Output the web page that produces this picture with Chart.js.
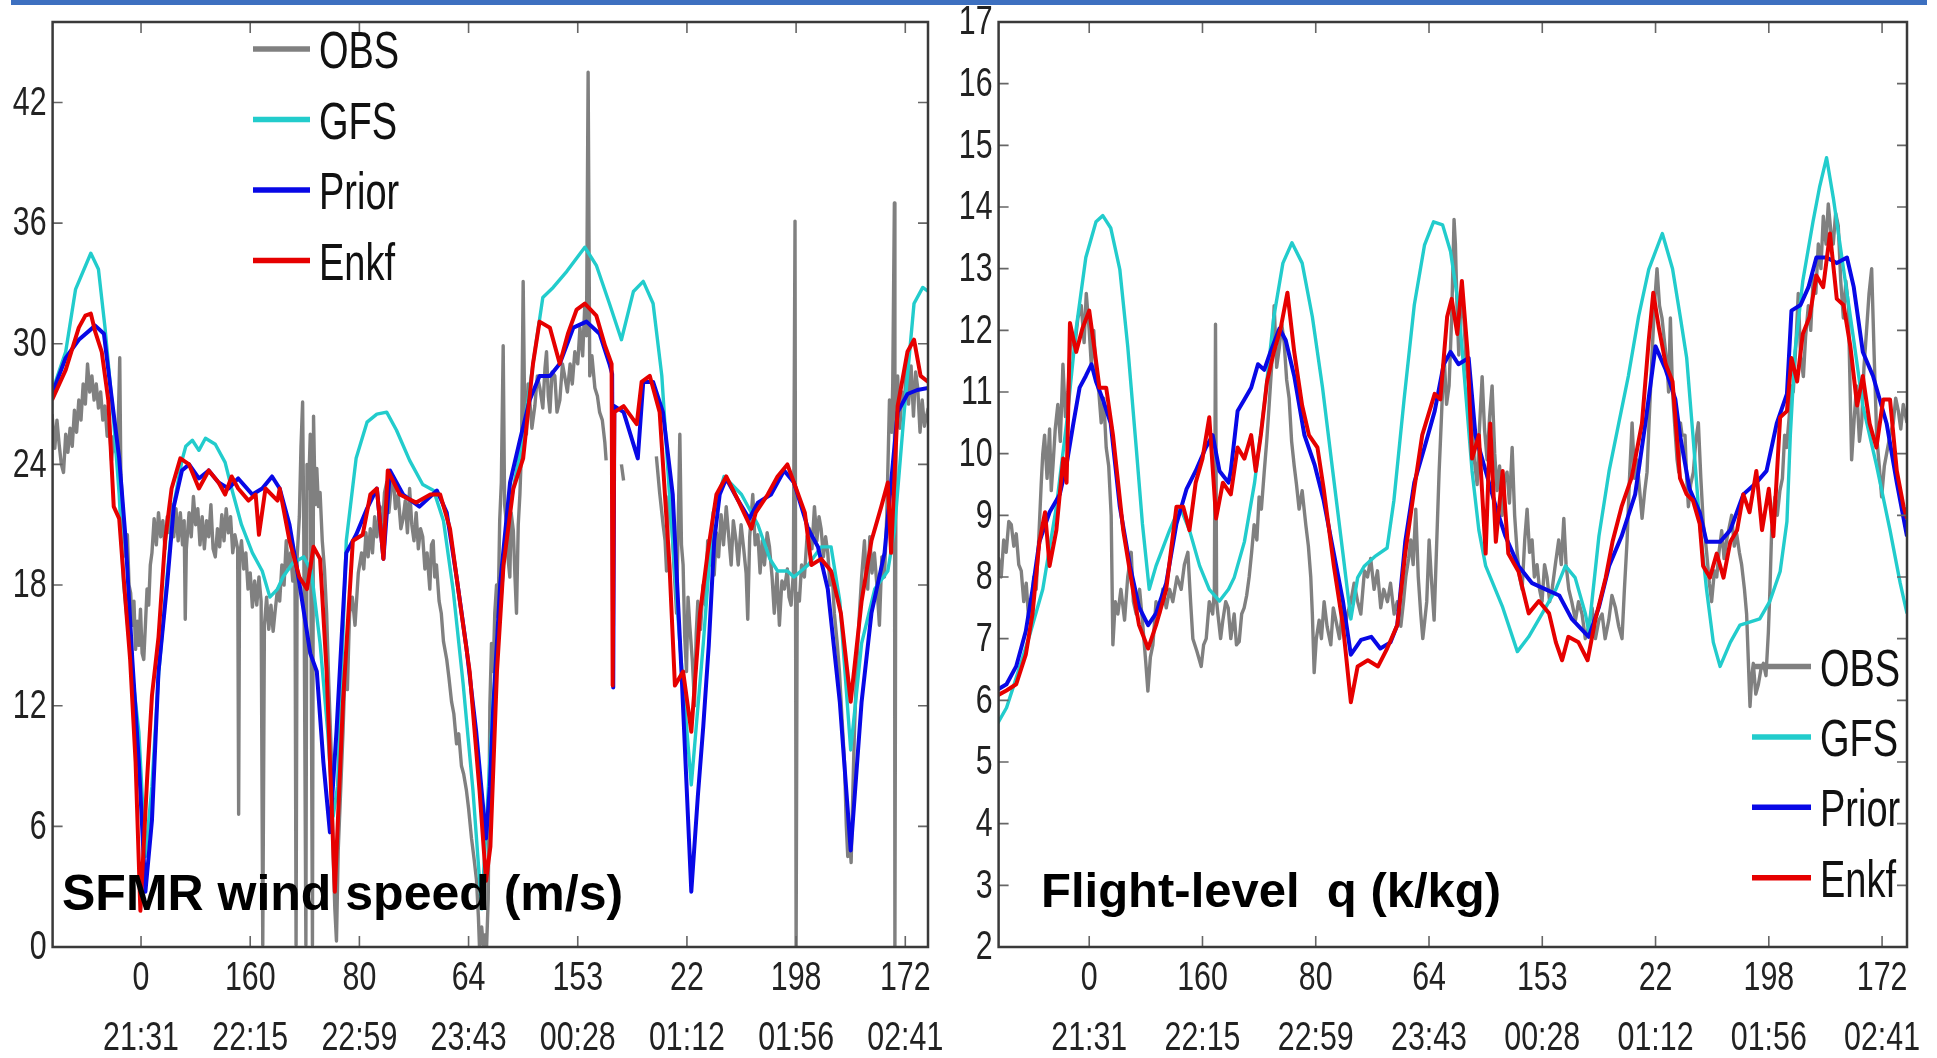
<!DOCTYPE html>
<html><head><meta charset="utf-8">
<script src="https://cdn.jsdelivr.net/npm/chart.js@4.4.1/dist/chart.umd.min.js"></script>
<style>
html,body{margin:0;padding:0;background:#fff;width:1937px;height:1058px;overflow:hidden;}
#bar{position:absolute;left:11px;top:0;width:1916px;height:5px;background:#3d70c0;z-index:5}
#cL{position:absolute;left:0;top:0}
#cR{position:absolute;left:950px;top:0}
</style></head><body>
<div id="bar"></div>
<canvas id="cL" width="960" height="1058"></canvas>
<canvas id="cR" width="987" height="1058"></canvas>
<script>
// ---------- labels ----------
const flightLabels = ['0','160','80','64','153','22','198','172'];
const timeLabels = ['21:31','22:15','22:59','23:43','00:28','01:12','01:56','02:41'];
const seriesNames = ['OBS','GFS','Prior','Enkf'];
const sfmrYTicks = [0,6,12,18,24,30,36,42];
const qYTicks = [2,3,4,5,6,7,8,9,10,11,12,13,14,15,16,17];
const sfmrTitle = 'SFMR wind speed (m/s)';
const qTitle = 'Flight-level  q (k/kg)';

// ---------- left panel: SFMR wind speed (x in tick units) ----------
const sfmrGfs = [[-0.815,27.6],[-0.69,29.6],[-0.60,32.7],[-0.46,34.5],[-0.39,33.7],[-0.33,30.8],[-0.25,26.1],[-0.20,22.5],[-0.16,18.1],[-0.08,13.6],[-0.02,10.7],[0.04,4.5],[0.10,8],[0.16,13.5],[0.24,18.5],[0.30,22],[0.375,24.2],[0.41,24.9],[0.47,25.2],[0.53,24.7],[0.59,25.3],[0.68,25.0],[0.77,24.1],[0.83,22.8],[0.92,21.0],[1.02,19.6],[1.11,18.7],[1.18,17.4],[1.25,17.8],[1.30,18.4],[1.39,19.1],[1.49,19.4],[1.56,18.7],[1.64,15.1],[1.71,10.7],[1.76,6.5],[1.80,8],[1.88,20.2],[1.97,24.3],[2.07,26.1],[2.16,26.5],[2.25,26.6],[2.34,25.7],[2.46,24.2],[2.58,23.0],[2.68,22.7],[2.77,21.2],[2.86,17.7],[2.95,13.1],[3.04,7.8],[3.12,1.9],[3.225,12.2],[3.35,21.0],[3.50,25.5],[3.59,29.0],[3.68,32.3],[3.775,32.8],[3.90,33.6],[4.065,34.8],[4.17,33.9],[4.29,32.0],[4.40,30.2],[4.51,32.6],[4.60,33.1],[4.69,32.0],[4.77,28.4],[4.84,22.5],[4.935,15.1],[5.04,8.06],[5.15,15.1],[5.24,21.6],[5.34,23.4],[5.50,22.5],[5.65,21.0],[5.76,19.3],[5.83,18.7],[5.92,18.7],[5.98,18.4],[6.11,19.0],[6.23,19.9],[6.32,19.9],[6.40,17.2],[6.50,9.8],[6.60,15.1],[6.72,17.8],[6.84,18.7],[6.90,20.7],[6.99,26.6],[7.08,32.0],[7.16,32.8],[7.21,32.6]];

const sfmrPrior = [[-0.815,27.5],[-0.69,29.3],[-0.57,30.2],[-0.42,30.9],[-0.34,30.5],[-0.28,27.8],[-0.20,24.3],[-0.14,20.2],[-0.08,14.3],[-0.02,9.2],[0.04,2.75],[0.10,6.3],[0.16,13.7],[0.24,18.1],[0.30,21.9],[0.375,23.7],[0.44,24.0],[0.53,23.3],[0.62,23.7],[0.71,23.1],[0.80,22.8],[0.89,23.3],[1.02,22.5],[1.11,22.8],[1.20,23.4],[1.27,22.8],[1.36,21.0],[1.45,18.1],[1.55,14.6],[1.61,13.7],[1.67,9.2],[1.73,5.7],[1.79,10.7],[1.88,19.6],[1.97,20.5],[2.07,21.8],[2.16,22.8],[2.22,19.3],[2.28,23.7],[2.40,22.5],[2.55,21.9],[2.71,22.7],[2.80,21.6],[2.89,18.4],[2.98,14.9],[3.07,10.7],[3.16,5.4],[3.195,8],[3.225,11.8],[3.29,18.1],[3.38,23.1],[3.47,25.2],[3.56,27.2],[3.65,28.4],[3.745,28.4],[3.835,29.0],[3.96,30.8],[4.08,31.1],[4.20,30.5],[4.29,29.0],[4.315,28.5],[4.325,12.9],[4.335,26.9],[4.42,26.6],[4.55,24.3],[4.60,28.1],[4.69,28.1],[4.78,26.6],[4.87,22.5],[4.95,13.7],[5.04,2.75],[5.10,7.5],[5.15,11.0],[5.20,15.0],[5.25,20.2],[5.30,22.5],[5.36,23.3],[5.47,22.2],[5.57,21.3],[5.65,22.1],[5.77,22.5],[5.89,23.7],[5.98,23.1],[6.11,20.8],[6.20,19.9],[6.29,17.8],[6.40,12.2],[6.50,4.8],[6.60,12.2],[6.69,16.6],[6.81,19.6],[6.93,26.6],[7.02,27.5],[7.11,27.7],[7.21,27.8]];

const sfmrEnkf = [[-0.815,27.2],[-0.69,28.7],[-0.57,30.8],[-0.51,31.4],[-0.46,31.5],[-0.42,30.6],[-0.36,29.6],[-0.30,27.2],[-0.25,21.9],[-0.20,21.3],[-0.16,18.4],[-0.10,14.3],[-0.05,9.2],[-0.006,1.8],[0.055,8.3],[0.10,12.5],[0.16,15.4],[0.22,20.2],[0.28,22.8],[0.36,24.3],[0.44,24.0],[0.53,22.8],[0.62,23.7],[0.71,23.1],[0.77,22.5],[0.83,23.4],[0.89,22.8],[0.985,22.2],[1.05,22.5],[1.08,20.5],[1.14,22.8],[1.25,22.2],[1.27,22.8],[1.36,20.2],[1.45,18.4],[1.52,17.8],[1.58,19.9],[1.64,19.3],[1.70,13.7],[1.775,2.75],[1.85,12.2],[1.94,20.2],[2.03,20.5],[2.10,22.5],[2.16,22.8],[2.22,19.3],[2.26,23.7],[2.37,22.5],[2.52,22.1],[2.65,22.5],[2.74,22.5],[2.83,20.8],[2.92,17.2],[3.01,13.7],[3.10,7.8],[3.16,3.3],[3.20,5],[3.26,13.7],[3.32,19.0],[3.41,22.8],[3.50,24.3],[3.59,29.0],[3.65,31.1],[3.745,30.8],[3.835,29.0],[3.91,30.5],[3.99,31.7],[4.065,32.0],[4.17,31.4],[4.25,29.9],[4.31,29.0],[4.32,13.0],[4.335,26.6],[4.42,26.9],[4.54,26.0],[4.585,28.1],[4.66,28.4],[4.75,26.6],[4.84,19.0],[4.89,13.0],[4.965,13.7],[5.04,10.7],[5.12,16.6],[5.19,19.6],[5.27,22.5],[5.36,23.4],[5.47,22.2],[5.59,20.8],[5.63,21.6],[5.74,22.5],[5.83,23.4],[5.92,24.0],[5.98,23.1],[6.08,21.6],[6.14,19.0],[6.23,19.3],[6.32,18.7],[6.41,16.6],[6.50,12.2],[6.60,17.2],[6.69,20.2],[6.78,21.9],[6.84,23.1],[6.87,19.6],[6.93,26.9],[7.02,29.6],[7.08,30.2],[7.14,28.4],[7.21,28.1]];

const sfmrObs = [[-0.815,26.5],[-0.79,24.8],[-0.77,26.2],[-0.75,25.0],[-0.73,24.0],[-0.71,23.6],[-0.69,25.5],[-0.67,24.6],[-0.65,25.8],[-0.63,24.9],[-0.61,26.7],[-0.59,25.6],[-0.57,27.2],[-0.55,26.2],[-0.53,28.0],[-0.51,27.0],[-0.49,29.0],[-0.47,27.6],[-0.45,28.4],[-0.43,27.2],[-0.41,28.0],[-0.39,26.8],[-0.37,27.6],[-0.35,26.2],[-0.33,26.9],[-0.31,25.4],[-0.29,26.0],[-0.27,24.2],[-0.25,25.4],[-0.23,24.6],[-0.21,25.8],[-0.195,29.3],[-0.185,23.5],[-0.17,22.0],[-0.155,20.5],[-0.14,19.4],[-0.125,20.5],[-0.11,18.0],[-0.095,17.6],[-0.08,16.0],[-0.065,17.2],[-0.05,14.8],[-0.035,16.2],[-0.02,15.0],[-0.005,16.8],[0.01,14.6],[0.025,14.3],[0.04,16.0],[0.055,17.8],[0.07,17.0],[0.085,19.0],[0.10,19.6],[0.12,21.3],[0.14,20.0],[0.16,21.6],[0.18,20.4],[0.20,21.2],[0.22,19.8],[0.24,21.4],[0.26,20.6],[0.28,22.0],[0.30,20.4],[0.32,21.8],[0.34,20.2],[0.36,21.6],[0.38,20.0],[0.395,21.2],[0.405,16.3],[0.415,19.8],[0.44,21.6],[0.46,20.4],[0.48,22.4],[0.50,21.0],[0.52,21.8],[0.54,20.0],[0.56,21.4],[0.58,19.8],[0.60,21.2],[0.62,20.4],[0.64,22.0],[0.66,19.8],[0.68,19.4],[0.70,20.8],[0.72,19.9],[0.74,21.5],[0.76,20.2],[0.78,21.8],[0.80,20.6],[0.82,21.4],[0.84,19.6],[0.86,20.5],[0.885,19.8],[0.894,6.6],[0.903,19.4],[0.92,20.2],[0.94,18.8],[0.96,19.6],[0.98,17.8],[1.00,18.6],[1.02,16.9],[1.04,18.2],[1.06,17.0],[1.08,18.4],[1.10,17.2],[1.115,0.1],[1.13,16.0],[1.15,17.4],[1.17,15.8],[1.19,17.0],[1.21,15.7],[1.23,16.8],[1.25,17.8],[1.27,17.2],[1.29,19.0],[1.31,18.0],[1.33,20.2],[1.35,18.8],[1.37,19.6],[1.39,18.2],[1.41,19.0],[1.42,0.1],[1.43,19.4],[1.45,21.4],[1.465,24.9],[1.48,27.1],[1.49,21.0],[1.51,0.1],[1.52,24.0],[1.535,22.8],[1.55,25.5],[1.57,0.1],[1.58,26.4],[1.595,22.0],[1.61,23.8],[1.625,21.9],[1.64,22.6],[1.66,20.2],[1.68,18.8],[1.70,16.6],[1.72,13.0],[1.745,9.2],[1.76,4.5],[1.775,1.9],[1.79,0.3],[1.806,4.8],[1.83,8.0],[1.85,10.7],[1.87,14.0],[1.89,12.8],[1.91,16.6],[1.935,17.4],[1.96,16.0],[1.99,18.6],[2.02,19.6],[2.04,18.8],[2.06,20.6],[2.08,19.4],[2.10,20.8],[2.12,19.6],[2.14,21.4],[2.16,20.4],[2.19,21.9],[2.21,20.8],[2.23,22.6],[2.25,23.1],[2.27,21.6],[2.29,22.8],[2.31,23.4],[2.33,21.8],[2.355,22.5],[2.38,20.8],[2.40,21.3],[2.42,22.2],[2.44,20.6],[2.46,22.8],[2.48,21.0],[2.50,20.2],[2.52,21.6],[2.54,19.8],[2.56,20.8],[2.58,20.4],[2.60,18.8],[2.62,19.6],[2.645,17.8],[2.66,20.0],[2.676,20.2],[2.69,18.4],[2.706,19.0],[2.73,17.2],[2.75,16.6],[2.77,15.2],[2.80,14.3],[2.82,13.4],[2.844,12.2],[2.865,11.6],[2.89,10.1],[2.91,10.6],[2.935,9.0],[2.955,8.6],[2.98,7.8],[3.00,6.9],[3.027,5.4],[3.05,4.4],[3.073,3.3],[3.09,1.5],[3.10,0.0],[3.12,1.0],[3.134,0.1],[3.15,0.6],[3.165,0.0],[3.18,2.4],[3.195,12.0],[3.21,15.1],[3.225,13.7],[3.24,16.6],[3.256,18.0],[3.27,16.4],[3.285,21.2],[3.30,23.1],[3.317,29.9],[3.33,22.0],[3.348,21.0],[3.36,19.4],[3.378,18.4],[3.39,21.6],[3.41,20.7],[3.425,18.4],[3.439,16.6],[3.455,21.0],[3.47,22.5],[3.485,24.8],[3.50,33.1],[3.515,26.0],[3.53,25.5],[3.545,28.0],[3.56,27.2],[3.58,25.8],[3.607,26.9],[3.63,28.4],[3.653,27.8],[3.68,26.8],[3.70,28.8],[3.714,29.6],[3.73,27.4],[3.745,26.6],[3.765,28.6],[3.79,28.4],[3.81,26.6],[3.836,27.2],[3.86,29.0],[3.88,28.4],[3.905,27.6],[3.93,29.0],[3.95,28.0],[3.973,29.6],[4.00,29.0],[4.02,30.8],[4.045,29.4],[4.065,32.0],[4.08,30.4],[4.095,43.5],[4.11,28.4],[4.13,29.4],[4.157,27.8],[4.18,27.4],[4.20,26.6],[4.225,26.2],[4.248,25.1],[4.26,24.2],[4.27,null],[4.40,24.0],[4.42,23.2],[4.43,null],[4.72,24.4],[4.75,22.6],[4.782,21.0],[4.80,20.2],[4.813,18.7],[4.835,22.4],[4.86,21.5],[4.88,19.0],[4.905,16.6],[4.92,21.0],[4.935,25.5],[4.95,20.0],[4.965,19.0],[4.98,15.4],[4.996,13.7],[5.01,17.4],[5.026,16.0],[5.05,14.2],[5.07,12.0],[5.085,15.6],[5.10,17.2],[5.125,15.8],[5.148,18.0],[5.17,17.0],[5.19,20.2],[5.21,19.0],[5.23,21.0],[5.25,18.5],[5.27,20.6],[5.29,19.4],[5.313,21.5],[5.335,20.0],[5.36,21.9],[5.38,20.6],[5.405,19.0],[5.425,21.2],[5.45,20.2],[5.47,19.0],[5.496,21.0],[5.52,19.8],[5.542,18.6],[5.557,16.3],[5.575,20.4],[5.603,22.5],[5.625,20.0],[5.65,20.5],[5.67,18.6],[5.69,20.2],[5.71,19.0],[5.735,20.6],[5.756,19.9],[5.78,18.4],[5.80,16.6],[5.825,18.6],[5.847,16.0],[5.87,18.2],[5.893,17.8],[5.92,18.8],[5.935,17.4],[5.954,17.0],[5.975,18.6],[5.99,36.1],[6.0,0.0],[6.01,17.6],[6.03,17.2],[6.05,19.0],[6.076,18.4],[6.10,20.4],[6.122,20.8],[6.145,19.8],[6.168,21.9],[6.19,20.2],[6.21,21.4],[6.229,20.8],[6.25,19.4],[6.27,20.4],[6.29,19.6],[6.31,18.0],[6.33,18.6],[6.35,16.6],[6.375,15.2],[6.397,13.7],[6.42,11.4],[6.443,9.2],[6.46,6.0],[6.473,4.5],[6.49,5.4],[6.504,4.2],[6.52,7.8],[6.534,10.7],[6.555,14.0],[6.58,16.6],[6.60,18.4],[6.626,20.2],[6.64,18.6],[6.656,17.8],[6.675,20.4],[6.695,18.6],[6.717,19.6],[6.74,18.0],[6.763,16.0],[6.785,19.4],[6.809,18.4],[6.83,21.4],[6.845,24.8],[6.855,27.2],[6.875,25.6],[6.885,28.0],[6.90,37.0],[6.905,0.0],[6.915,26.0],[6.93,28.4],[6.95,25.8],[6.97,27.6],[6.992,26.9],[7.01,29.2],[7.03,27.0],[7.053,28.9],[7.075,26.4],[7.095,28.6],[7.114,27.8],[7.135,25.6],[7.155,27.2],[7.175,25.9],[7.21,26.8]];

// ---------- right panel: flight-level q ----------
const qGfs = [[-0.82,5.59],[-0.73,5.88],[-0.645,6.36],[-0.53,7.03],[-0.41,7.80],[-0.29,9.14],[-0.20,10.49],[-0.115,12.03],[-0.03,13.18],[0.06,13.76],[0.12,13.86],[0.19,13.66],[0.27,12.99],[0.34,11.74],[0.415,10.10],[0.47,8.86],[0.53,7.80],[0.59,8.18],[0.71,8.76],[0.80,9.14],[0.885,8.76],[0.975,8.18],[1.06,7.80],[1.15,7.61],[1.23,7.80],[1.28,7.99],[1.37,8.57],[1.46,9.53],[1.545,10.78],[1.63,12.22],[1.71,13.09],[1.79,13.42],[1.88,13.09],[1.97,12.22],[2.06,11.07],[2.15,9.72],[2.24,8.38],[2.31,7.32],[2.37,7.99],[2.43,8.18],[2.52,8.33],[2.63,8.47],[2.69,9.24],[2.78,10.88],[2.87,12.41],[2.96,13.38],[3.04,13.76],[3.12,13.71],[3.19,13.28],[3.26,12.41],[3.32,11.07],[3.38,9.72],[3.44,8.76],[3.50,8.18],[3.65,7.51],[3.78,6.79],[3.88,7.03],[4.0,7.41],[4.12,7.80],[4.204,8.18],[4.29,7.99],[4.38,7.41],[4.41,7.12],[4.50,8.66],[4.59,9.72],[4.675,10.49],[4.76,11.26],[4.85,12.22],[4.94,12.99],[5.06,13.57],[5.15,13.0],[5.22,12.2],[5.275,11.55],[5.33,10.30],[5.39,8.86],[5.45,7.80],[5.51,6.94],[5.57,6.55],[5.66,6.94],[5.745,7.22],[5.83,7.27],[5.92,7.32],[6.01,7.61],[6.10,8.09],[6.16,8.9],[6.19,10.3],[6.23,11.64],[6.30,12.80],[6.39,13.76],[6.45,14.34],[6.51,14.80],[6.57,14.14],[6.66,12.99],[6.75,11.84],[6.83,10.78],[6.95,9.82],[7.07,8.76],[7.16,7.90],[7.22,7.41]];

const qPrior = [[-0.82,6.16],[-0.73,6.26],[-0.645,6.55],[-0.56,7.12],[-0.50,7.80],[-0.44,8.57],[-0.35,9.05],[-0.26,9.34],[-0.20,9.82],[-0.14,10.49],[-0.085,11.07],[-0.03,11.26],[0.02,11.45],[0.06,11.17],[0.12,10.88],[0.19,10.49],[0.27,9.14],[0.36,8.18],[0.44,7.51],[0.52,7.22],[0.59,7.41],[0.68,7.90],[0.77,8.86],[0.86,9.43],[0.94,9.72],[1.03,10.10],[1.09,10.3],[1.15,9.72],[1.23,9.53],[1.25,9.72],[1.31,10.69],[1.37,10.88],[1.43,11.07],[1.49,11.45],[1.545,11.36],[1.60,11.65],[1.68,12.03],[1.735,11.84],[1.81,11.26],[1.90,10.30],[1.99,9.82],[2.07,9.24],[2.16,8.38],[2.24,7.61],[2.31,6.74],[2.40,6.98],[2.49,7.03],[2.57,6.84],[2.66,6.94],[2.72,7.22],[2.79,8.57],[2.87,9.53],[2.96,10.10],[3.05,10.69],[3.13,11.45],[3.19,11.65],[3.26,11.45],[3.35,11.55],[3.41,10.30],[3.50,9.72],[3.59,9.14],[3.675,8.66],[3.79,8.18],[3.91,7.90],[4.03,7.80],[4.15,7.70],[4.26,7.32],[4.41,7.03],[4.50,7.51],[4.59,8.18],[4.70,8.66],[4.82,9.34],[4.91,10.49],[5.0,11.74],[5.09,11.36],[5.175,10.88],[5.216,10.3],[5.30,9.43],[5.39,9.05],[5.45,8.57],[5.57,8.57],[5.66,8.76],[5.775,9.34],[5.89,9.53],[5.98,9.72],[6.07,10.49],[6.16,10.97],[6.20,12.32],[6.28,12.41],[6.35,12.70],[6.42,13.18],[6.51,13.18],[6.60,13.09],[6.69,13.18],[6.75,12.70],[6.83,11.65],[6.92,11.26],[7.04,10.49],[7.13,9.53],[7.22,8.66]];

const qEnkf = [[-0.82,6.07],[-0.73,6.16],[-0.645,6.26],[-0.56,6.74],[-0.50,7.41],[-0.44,8.57],[-0.39,9.05],[-0.35,8.18],[-0.29,8.76],[-0.23,9.92],[-0.20,9.53],[-0.19,10.30],[-0.17,12.12],[-0.115,11.65],[-0.06,12.03],[0.0,12.32],[0.05,11.65],[0.09,11.07],[0.15,11.07],[0.21,10.30],[0.30,8.76],[0.385,7.80],[0.44,7.22],[0.52,6.84],[0.59,7.22],[0.68,7.80],[0.77,9.14],[0.83,9.14],[0.885,8.76],[0.94,9.53],[1.0,9.92],[1.06,10.59],[1.12,8.95],[1.18,9.53],[1.25,9.34],[1.31,10.10],[1.37,9.92],[1.43,10.30],[1.47,9.72],[1.515,10.30],[1.57,11.17],[1.63,11.65],[1.69,12.03],[1.75,12.61],[1.81,11.65],[1.88,10.78],[1.94,10.30],[2.015,10.10],[2.07,9.43],[2.16,8.18],[2.24,7.22],[2.31,5.97],[2.37,6.55],[2.46,6.65],[2.55,6.55],[2.63,6.84],[2.72,7.22],[2.79,8.38],[2.87,9.43],[2.94,10.30],[3.05,10.97],[3.10,10.88],[3.16,12.22],[3.20,12.51],[3.25,11.94],[3.29,12.80],[3.34,11.65],[3.38,9.92],[3.44,10.30],[3.50,8.38],[3.54,10.49],[3.59,8.57],[3.65,9.72],[3.70,8.38],[3.79,8.09],[3.88,7.41],[3.97,7.61],[4.06,7.41],[4.12,6.94],[4.175,6.65],[4.23,7.03],[4.32,6.94],[4.40,6.65],[4.47,7.32],[4.56,7.99],[4.62,8.57],[4.70,9.14],[4.79,9.62],[4.88,10.49],[4.94,11.84],[4.98,12.61],[5.03,12.03],[5.09,11.45],[5.15,11.17],[5.216,9.6],[5.275,9.34],[5.33,9.24],[5.39,8.86],[5.42,8.18],[5.48,7.99],[5.54,8.38],[5.60,7.99],[5.66,8.57],[5.72,8.76],[5.775,9.34],[5.83,9.05],[5.89,9.72],[5.94,8.76],[6.0,9.43],[6.04,8.66],[6.10,10.59],[6.16,10.69],[6.20,11.55],[6.25,11.17],[6.30,11.94],[6.36,12.22],[6.42,12.89],[6.48,12.70],[6.54,13.57],[6.60,12.51],[6.66,12.41],[6.72,11.74],[6.78,10.78],[6.83,11.26],[6.89,10.49],[6.95,10.10],[7.01,10.88],[7.07,10.88],[7.13,9.72],[7.19,9.14],[7.22,8.95]];

const qObs = [[-0.821,7.8],[-0.80,8.3],[-0.777,8.0],[-0.755,8.6],[-0.733,8.4],[-0.71,8.9],[-0.688,8.85],[-0.666,8.5],[-0.644,8.7],[-0.622,8.2],[-0.60,8.1],[-0.578,7.6],[-0.556,7.9],[-0.534,7.3],[-0.512,7.4],[-0.49,8.0],[-0.468,7.8],[-0.446,8.6],[-0.424,9.5],[-0.41,10.0],[-0.394,10.3],[-0.372,9.6],[-0.35,10.4],[-0.335,9.4],[-0.32,9.8],[-0.30,10.4],[-0.277,10.8],[-0.255,10.2],[-0.232,11.45],[-0.21,10.6],[-0.188,11.0],[-0.16,12.0],[-0.13,11.7],[-0.10,12.2],[-0.07,12.4],[-0.045,11.8],[-0.026,12.6],[0.0,12.0],[0.018,11.45],[0.04,12.0],[0.062,11.25],[0.085,11.0],[0.106,10.5],[0.128,10.9],[0.15,10.1],[0.172,9.8],[0.194,9.0],[0.209,6.9],[0.23,7.6],[0.253,7.4],[0.28,7.8],[0.312,7.3],[0.34,8.0],[0.371,8.4],[0.39,7.6],[0.415,7.4],[0.445,7.8],[0.474,7.2],[0.50,6.6],[0.518,6.15],[0.54,6.7],[0.562,6.9],[0.59,7.6],[0.62,7.4],[0.65,7.8],[0.68,7.5],[0.71,7.8],[0.738,7.6],[0.775,8.0],[0.812,7.8],[0.84,8.2],[0.871,8.4],[0.895,7.6],[0.915,7.0],[0.95,6.8],[0.989,6.55],[1.01,6.9],[1.033,7.0],[1.06,7.6],[1.09,7.4],[1.105,7.8],[1.115,12.1],[1.125,7.6],[1.136,7.4],[1.16,7.0],[1.18,7.3],[1.205,7.6],[1.227,7.5],[1.25,7.0],[1.28,7.4],[1.30,6.9],[1.324,6.95],[1.346,7.4],[1.368,7.5],[1.39,7.7],[1.412,8.0],[1.434,8.4],[1.456,8.85],[1.48,8.6],[1.50,9.3],[1.52,9.1],[1.545,9.7],[1.567,10.2],[1.589,10.8],[1.61,11.4],[1.633,12.4],[1.655,11.4],[1.677,11.7],[1.70,12.1],[1.721,11.8],[1.743,11.2],[1.765,10.9],[1.787,10.2],[1.81,9.8],[1.83,9.5],[1.853,9.1],[1.88,9.4],[1.912,8.85],[1.935,8.5],[1.956,8.0],[1.97,7.4],[1.986,6.45],[2.005,7.0],[2.03,7.3],[2.05,7.0],[2.074,7.6],[2.10,7.2],[2.133,6.9],[2.155,7.5],[2.177,7.3],[2.21,7.0],[2.236,7.5],[2.258,7.2],[2.28,7.4],[2.31,7.6],[2.339,7.9],[2.37,7.6],[2.398,7.4],[2.43,8.1],[2.457,8.0],[2.485,8.3],[2.515,7.8],[2.545,8.1],[2.574,7.5],[2.60,7.8],[2.633,7.6],[2.66,7.9],[2.692,7.4],[2.72,7.6],[2.751,7.2],[2.775,7.6],[2.795,8.0],[2.82,8.3],[2.839,8.6],[2.86,8.2],[2.883,9.1],[2.905,8.0],[2.927,7.4],[2.945,7.0],[2.957,7.2],[2.98,7.6],[3.001,8.6],[3.02,8.0],[3.045,7.3],[3.065,8.4],[3.089,9.7],[3.11,10.6],[3.133,11.6],[3.155,10.8],[3.177,11.1],[3.20,12.2],[3.221,13.8],[3.233,13.4],[3.25,12.2],[3.263,11.6],[3.285,12.6],[3.307,12.2],[3.33,11.4],[3.351,11.1],[3.365,10.3],[3.38,10.8],[3.40,9.9],[3.425,9.5],[3.445,10.4],[3.469,11.25],[3.49,10.4],[3.513,9.9],[3.535,10.6],[3.557,11.1],[3.58,10.0],[3.601,9.4],[3.623,9.8],[3.645,9.0],[3.667,9.6],[3.689,9.7],[3.71,9.2],[3.734,10.1],[3.756,9.0],[3.778,8.4],[3.80,8.0],[3.822,7.8],[3.845,8.6],[3.866,9.1],[3.888,8.4],[3.91,8.6],[3.93,8.0],[3.954,8.2],[3.976,7.8],[3.998,7.6],[4.02,8.2],[4.042,8.0],[4.065,7.6],[4.087,7.8],[4.115,8.2],[4.145,8.6],[4.168,8.2],[4.19,8.95],[4.21,8.2],[4.234,7.8],[4.26,7.6],[4.293,7.3],[4.32,7.6],[4.351,7.4],[4.38,7.0],[4.41,7.2],[4.44,7.5],[4.469,7.0],[4.50,7.3],[4.528,7.4],[4.555,7.0],[4.587,7.3],[4.615,7.7],[4.646,7.5],[4.675,7.2],[4.704,7.0],[4.725,7.8],[4.749,8.6],[4.77,9.6],[4.793,10.5],[4.815,9.6],[4.837,9.9],[4.86,9.4],[4.881,8.95],[4.905,9.4],[4.925,9.7],[4.945,10.6],[4.969,11.6],[4.99,12.4],[5.013,13.0],[5.035,12.4],[5.057,12.2],[5.08,11.8],[5.102,11.45],[5.115,11.0],[5.131,12.2],[5.15,11.0],[5.175,10.3],[5.19,9.9],[5.205,9.7],[5.22,10.5],[5.234,10.3],[5.26,10.3],[5.275,9.6],[5.29,9.14],[5.31,9.5],[5.334,9.7],[5.355,10.2],[5.378,10.5],[5.40,9.6],[5.422,8.85],[5.44,8.6],[5.451,8.4],[5.475,7.9],[5.495,7.6],[5.52,8.1],[5.54,8.0],[5.56,8.4],[5.584,8.75],[5.605,8.3],[5.628,8.6],[5.65,8.8],[5.672,9.0],[5.695,8.5],[5.716,8.7],[5.74,8.4],[5.76,8.2],[5.785,7.8],[5.804,7.4],[5.82,6.6],[5.834,5.9],[5.85,6.4],[5.863,6.6],[5.885,6.1],[5.907,6.25],[5.93,6.5],[5.952,6.6],[5.975,6.4],[5.996,7.1],[6.01,7.8],[6.025,8.75],[6.04,9.0],[6.054,9.3],[6.075,9.0],[6.098,9.4],[6.12,9.6],[6.14,10.3],[6.157,10.1],[6.18,10.6],[6.2,11.1],[6.216,11.0],[6.24,11.8],[6.26,12.6],[6.28,11.6],[6.305,11.25],[6.325,11.9],[6.349,12.4],[6.37,12.0],[6.393,12.9],[6.415,12.6],[6.437,13.4],[6.46,13.0],[6.481,13.85],[6.505,13.4],[6.525,14.05],[6.548,13.6],[6.569,13.4],[6.59,13.9],[6.613,13.7],[6.635,12.8],[6.658,12.2],[6.68,12.8],[6.702,12.4],[6.716,11.2],[6.731,9.9],[6.755,10.6],[6.775,11.1],[6.80,10.2],[6.82,10.5],[6.84,11.4],[6.863,12.0],[6.885,12.6],[6.908,13.0],[6.93,11.6],[6.952,10.3],[6.975,9.8],[6.996,9.3],[7.02,9.8],[7.04,10.0],[7.07,10.3],[7.099,10.5],[7.12,10.9],[7.143,10.7],[7.165,10.4],[7.187,10.8],[7.22,10.5]];

// ---------- styling ----------
const COLORS = {OBS:'#808080', GFS:'#22cccc', Prior:'#0808e6', Enkf:'#e60000'};
const SANS = '"Liberation Sans", Arial, Helvetica, sans-serif';
const toXY = arr => arr.map(p => ({x: p[0], y: p[1]}));

// condensed text (Helvetica-Narrow look) drawn as real canvas text
function narrowText(ctx, txt, x, y, size, sx, align, baseline, color) {
  ctx.save();
  ctx.font = size + 'px ' + SANS;
  ctx.textAlign = align; ctx.textBaseline = baseline; ctx.fillStyle = color;
  ctx.translate(x, y); ctx.scale(sx, 1);
  ctx.fillText(txt, 0, 0);
  ctx.restore();
}

const frameDeco = {
  id: 'frameDeco',
  afterDatasetsDraw(chart, args, o) {
    const {ctx, chartArea: a, scales: {x, y}} = chart;
    ctx.save();
    // inward tick marks on all four sides
    ctx.strokeStyle = '#666'; ctx.lineWidth = 1.6;
    ctx.beginPath();
    x.ticks.forEach(t => { const px = x.getPixelForValue(t.value);
      ctx.moveTo(px, a.bottom); ctx.lineTo(px, a.bottom - 11);
      ctx.moveTo(px, a.top); ctx.lineTo(px, a.top + 11); });
    y.ticks.forEach(t => { const py = y.getPixelForValue(t.value);
      ctx.moveTo(a.left, py); ctx.lineTo(a.left + 10, py);
      ctx.moveTo(a.right, py); ctx.lineTo(a.right - 10, py); });
    ctx.stroke();
    ctx.strokeStyle = '#3a3a3a'; ctx.lineWidth = 2.5;
    ctx.strokeRect(a.left, a.top, a.right - a.left, a.bottom - a.top);
    // tick labels
    x.ticks.forEach(t => { const px = x.getPixelForValue(t.value); const i = Math.round(t.value);
      narrowText(ctx, flightLabels[i], px, o.xRow1, 41, 0.74, 'center', 'middle', '#222');
      narrowText(ctx, timeLabels[i], px, o.xRow2, 41, 0.74, 'center', 'middle', '#222'); });
    y.ticks.forEach(t => { const py = y.getPixelForValue(t.value);
      narrowText(ctx, String(t.value), a.left - 6, py + 1, 41, 0.74, 'right', 'middle', '#222'); });
    // legend (clipped to plot area)
    ctx.save();
    ctx.beginPath(); ctx.rect(a.left, a.top, a.right - a.left, a.bottom - a.top); ctx.clip();
    seriesNames.forEach((name, i) => {
      const ly = o.legY + i * o.legStep;
      ctx.strokeStyle = COLORS[name]; ctx.lineWidth = 5.5; ctx.lineCap = 'butt';
      ctx.beginPath(); ctx.moveTo(o.legX0, ly); ctx.lineTo(o.legX1, ly); ctx.stroke();
      narrowText(ctx, name, o.legTextX, ly + 19, 52, 0.73, 'left', 'alphabetic', '#111');
    });
    ctx.restore();
    // panel title
    ctx.font = 'bold ' + o.titleSize + 'px ' + SANS;
    ctx.fillStyle = '#000'; ctx.textAlign = 'left'; ctx.textBaseline = 'alphabetic';
    ctx.fillText(o.title, o.titleX, o.titleY);
    ctx.restore();
  }
};

function makeChart(canvas, d) {
  return new Chart(canvas, {
    type: 'line',
    data: { datasets: [
      {label: 'Enkf', data: toXY(d.enkf), borderColor: COLORS.Enkf, borderWidth: 4, order: 0},
      {label: 'Prior', data: toXY(d.prior), borderColor: COLORS.Prior, borderWidth: 4, order: 1},
      {label: 'GFS', data: toXY(d.gfs), borderColor: COLORS.GFS, borderWidth: 3.4, order: 2},
      {label: 'OBS', data: toXY(d.obs), borderColor: COLORS.OBS, borderWidth: 3.4, order: 3}
    ]},
    options: {
      responsive: false, animation: false, devicePixelRatio: 1,
      elements: { point: {radius: 0}, line: {tension: 0, borderJoinStyle: 'round', fill: false} },
      layout: { padding: {top: 22, right: d.padRight, left: 0, bottom: 0} },
      plugins: { legend: {display: false}, tooltip: {enabled: false}, frameDeco: d.deco },
      scales: {
        x: {
          type: 'linear', min: d.xmin, max: d.xmax,
          afterBuildTicks: s => { s.ticks = flightLabels.map((_, i) => ({value: i})); },
          afterFit: s => { s.height = 111; },
          grid: {display: false, drawTicks: false}, border: {display: false},
          ticks: { display: false }
        },
        y: {
          type: 'linear', min: d.ymin, max: d.ymax,
          afterBuildTicks: s => { s.ticks = d.yticks.map(v => ({value: v})); },
          afterFit: s => { s.width = d.yWidth; },
          grid: {display: false, drawTicks: false}, border: {display: false},
          ticks: { display: false }
        }
      }
    },
    plugins: [frameDeco]
  });
}

makeChart(document.getElementById('cL'), {
  obs: sfmrObs, gfs: sfmrGfs, prior: sfmrPrior, enkf: sfmrEnkf,
  xmin: -0.81, xmax: 7.208, ymin: 0, ymax: 46, yticks: sfmrYTicks,
  yWidth: 52.6, padRight: 32,
  deco: {legX0: 253, legX1: 310, legTextX: 319, legY: 49, legStep: 70.5, xRow1: 979, xRow2: 1039,
         title: sfmrTitle, titleX: 62, titleY: 910, titleSize: 50}
});
makeChart(document.getElementById('cR'), {
  obs: qObs, gfs: qGfs, prior: qPrior, enkf: qEnkf,
  xmin: -0.80, xmax: 7.22, ymin: 2, ymax: 17, yticks: qYTicks,
  yWidth: 48.6, padRight: 30,
  deco: {legX0: 802, legX1: 861, legTextX: 870, legY: 666.5, legStep: 70.4, xRow1: 979, xRow2: 1039,
         title: qTitle, titleX: 91, titleY: 907, titleSize: 49}
});
</script></body></html>
